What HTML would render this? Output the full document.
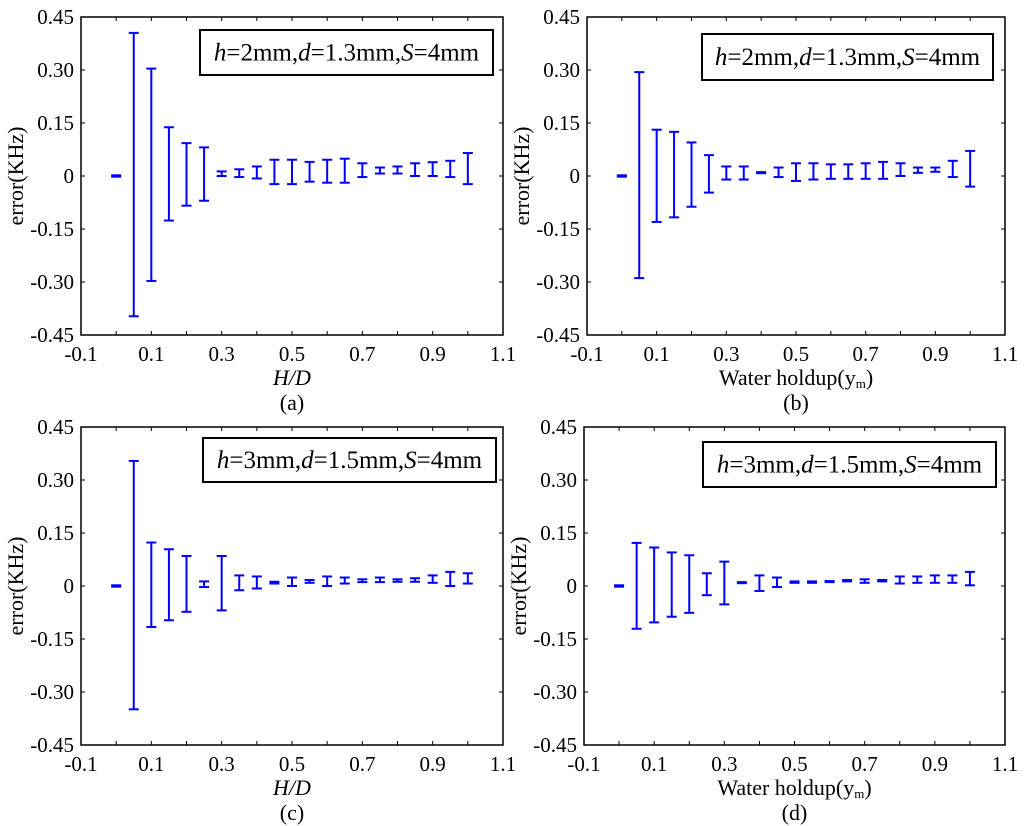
<!DOCTYPE html>
<html><head><meta charset="utf-8"><style>
body{margin:0;background:#fff;width:1024px;height:826px;overflow:hidden}
svg{display:block;font-family:"Liberation Serif",serif}
</style></head><body>
<svg id="fig" width="1024" height="826" viewBox="0 0 1024 826" xmlns="http://www.w3.org/2000/svg"></svg>
<script>
const xValues=[0,0.05,0.1,0.15,0.2,0.25,0.3,0.35,0.4,0.45,0.5,0.55,0.6,0.65,0.7,0.75,0.8,0.85,0.9,0.95,1.0];
const xTicks=[-0.1,0.1,0.3,0.5,0.7,0.9,1.1];
const xTickLabels=["-0.1","0.1","0.3","0.5","0.7","0.9","1.1"];
const yTicks=[0.45,0.30,0.15,0,-0.15,-0.30,-0.45];
const yTickLabels=["0.45","0.30","0.15","0","-0.15","-0.30","-0.45"];
const aHigh=[0.002,0.405,0.304,0.138,0.093,0.081,0.013,0.019,0.027,0.046,0.046,0.040,0.046,0.049,0.036,0.024,0.027,0.036,0.039,0.043,0.065];
const aLow=[-0.002,-0.397,-0.297,-0.126,-0.084,-0.070,0.0,-0.003,-0.007,-0.023,-0.023,-0.016,-0.019,-0.019,-0.003,0.007,0.007,0.0,0.0,-0.003,-0.023];
const bHigh=[0.002,0.294,0.131,0.125,0.095,0.059,0.027,0.027,0.011,0.024,0.036,0.036,0.033,0.033,0.036,0.040,0.036,0.024,0.024,0.043,0.071];
const bLow=[-0.002,-0.289,-0.130,-0.117,-0.087,-0.047,-0.010,-0.010,0.008,-0.003,-0.014,-0.010,-0.008,-0.008,-0.008,-0.008,0.0,0.009,0.012,-0.003,-0.030];
const cHigh=[0.002,0.354,0.123,0.104,0.085,0.013,0.085,0.030,0.027,0.012,0.024,0.017,0.027,0.024,0.019,0.024,0.019,0.022,0.030,0.040,0.036];
const cLow=[-0.002,-0.349,-0.116,-0.097,-0.073,-0.003,-0.069,-0.012,-0.007,0.007,0.0,0.009,0.0,0.007,0.011,0.011,0.012,0.012,0.009,0.0,0.007];
const dHigh=[0.002,0.122,0.109,0.095,0.087,0.036,0.069,0.011,0.030,0.024,0.013,0.013,0.014,0.017,0.019,0.017,0.027,0.027,0.030,0.030,0.040];
const dLow=[-0.002,-0.121,-0.103,-0.087,-0.076,-0.026,-0.052,0.008,-0.014,-0.003,0.009,0.009,0.011,0.013,0.009,0.013,0.007,0.009,0.009,0.009,0.002];

const NS="http://www.w3.org/2000/svg";
const svg=document.getElementById('fig');
function mk(tag,attrs,parent,text){const e=document.createElementNS(NS,tag);for(const k in attrs)e.setAttribute(k,attrs[k]);if(text!==undefined)e.textContent=text;(parent||svg).appendChild(e);return e;}

const panels=[
 {id:'a',L:81,R:503,T:17,B:335,hi:aHigh,lo:aLow,xl:'HD',letter:'(a)',leg:[200,30,293,45],legText:['2','1.3']},
 {id:'b',L:587,R:1005,T:17,B:335,hi:bHigh,lo:bLow,xl:'W',letter:'(b)',leg:[702,34,291,46],legText:['2','1.3']},
 {id:'c',L:81,R:503,T:427,B:745,hi:cHigh,lo:cLow,xl:'HD',letter:'(c)',leg:[203,438,293,44],legText:['3','1.5']},
 {id:'d',L:584,R:1005,T:427,B:745,hi:dHigh,lo:dLow,xl:'W',letter:'(d)',leg:[703,442,293,45],legText:['3','1.5']}
];

panels.forEach(p=>{
 const g=mk('g',{});
 
 
 const sx=v=>p.L+(v+0.1)/1.2*(p.R-p.L);
 const sy=v=>p.T+(0.45-v)/0.9*(p.B-p.T);
 const frame=mk('rect',{x:p.L,y:p.T,width:p.R-p.L,height:p.B-p.T,fill:'none',stroke:'#000','stroke-width':1.5},g);
 
 
 for(let i=-1;i<=11;i++){const v=i/10;const x=sx(v);
  mk('line',{x1:x,y1:p.B,x2:x,y2:p.B-4,stroke:'#000','stroke-width':1},g);
  mk('line',{x1:x,y1:p.T,x2:x,y2:p.T+4,stroke:'#000','stroke-width':1},g);}
 xTicks.forEach((v,i)=>{const t=mk('text',{x:sx(v),y:p.B+26,'font-size':21,'text-anchor':'middle'},g,xTickLabels[i]);
  
  });
 yTicks.forEach((v,i)=>{const y=sy(v);
  mk('line',{x1:p.L,y1:y,x2:p.L+4,y2:y,stroke:'#000','stroke-width':1},g);
  mk('line',{x1:p.R,y1:y,x2:p.R-4,y2:y,stroke:'#000','stroke-width':1},g);
  const t=mk('text',{x:p.L-7,y:y+7,'font-size':21,'text-anchor':'end'},g,yTickLabels[i]);
  
  });
 const yl=mk('text',{x:0,y:0,'font-size':22,'text-anchor':'middle',transform:`translate(${p.L-58},${(p.T+p.B)/2}) rotate(-90)`},g,'error(KHz)');
 
 
 const cx=(p.L+p.R)/2;
 let xl;
 if(p.xl==='HD'){xl=mk('text',{x:cx,y:p.B+50,'font-size':22,'text-anchor':'middle','font-style':'italic'},g,'H/D');}
 else{xl=mk('text',{x:cx,y:p.B+50,'font-size':22,'text-anchor':'middle'},g);
  mk('tspan',{},xl,'Water holdup(y');mk('tspan',{'font-size':13,dy:3},xl,'m');mk('tspan',{dy:-3},xl,')');}
 
 
 const lt=mk('text',{x:cx,y:p.B+75,'font-size':22,'text-anchor':'middle'},g,p.letter);
 
 
 const lg=mk('g',{},g);
 
 
 mk('rect',{x:p.leg[0],y:p.leg[1],width:p.leg[2],height:p.leg[3],fill:'#fff',stroke:'#000','stroke-width':2},lg);
 const tt=mk('text',{x:p.leg[0]+p.leg[2]/2,y:p.leg[1]+p.leg[3]/2+8,'font-size':25,'text-anchor':'middle'},lg);
 mk('tspan',{'font-style':'italic'},tt,'h');mk('tspan',{},tt,'='+p.legText[0]+'mm,');
 mk('tspan',{'font-style':'italic'},tt,'d');mk('tspan',{},tt,'='+p.legText[1]+'mm,');
 mk('tspan',{'font-style':'italic'},tt,'S');mk('tspan',{},tt,'=4mm');
 xValues.forEach((xv,i)=>{
  const x=sx(xv),y1=sy(p.hi[i]),y2=sy(p.lo[i]);
  const b=mk('g',{stroke:'#0000ff','stroke-width':2,fill:'none'},g);
  
  
  mk('line',{x1:x,y1:y1,x2:x,y2:y2},b);
  mk('line',{x1:x-5,y1:y1,x2:x+5,y2:y1},b);
  mk('line',{x1:x-5,y1:y2,x2:x+5,y2:y2},b);
 });
});
</script>
</body></html>
